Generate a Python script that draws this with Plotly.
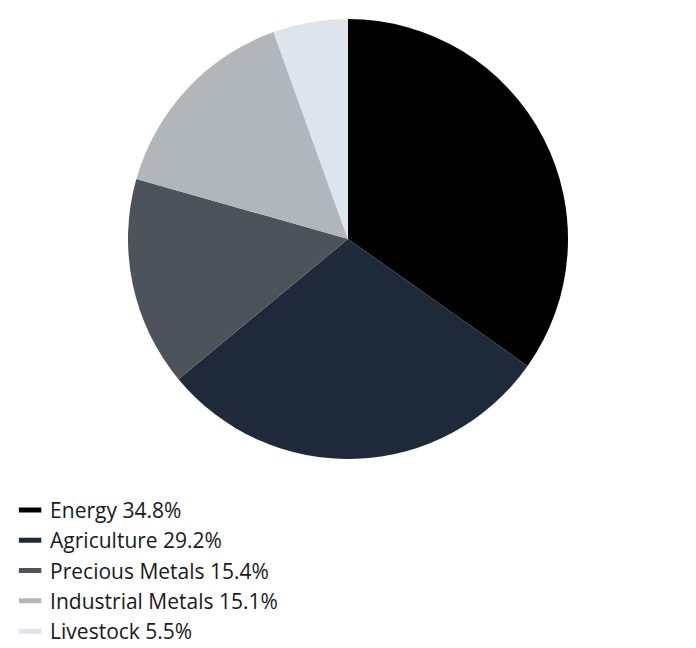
import plotly.graph_objects as go

categories = ["Energy", "Agriculture", "Precious Metals", "Industrial Metals", "Livestock"]
values = [34.8, 29.2, 15.4, 15.1, 5.5]
colors = ["#000000", "#1e2a3a", "#4d535b", "#b1b6bb", "#dde4ec"]
labels = [f"{c} {v}%" for c, v in zip(categories, values)]

fig = go.Figure()
fig.add_trace(go.Pie(
    labels=categories, values=values, sort=False, direction="clockwise", rotation=0,
    marker=dict(colors=colors, line=dict(width=0)), textinfo="none", hoverinfo="label+percent",
    showlegend=False, domain=dict(x=[120/696, 560/696], y=[1-451/648, 1-11/648]),
))
for lab, col in zip(labels, colors):
    fig.add_trace(go.Scatter(
        x=[None], y=[None], mode="markers", name=lab,
        marker=dict(symbol="line-ew", size=16, color=col, line=dict(width=5, color=col)),
    ))

fig.update_layout(
    width=696, height=648, margin=dict(l=0, r=0, t=0, b=0),
    paper_bgcolor="white", plot_bgcolor="white",
    font=dict(family="Open Sans", size=21, color="#1a1a1a"),
    xaxis=dict(visible=False), yaxis=dict(visible=False),
    legend=dict(x=0.003, y=0.2565, xanchor="left", yanchor="top", tracegroupgap=0,
                itemwidth=30, font=dict(size=21)),
)
fig.write_html("out.html")
